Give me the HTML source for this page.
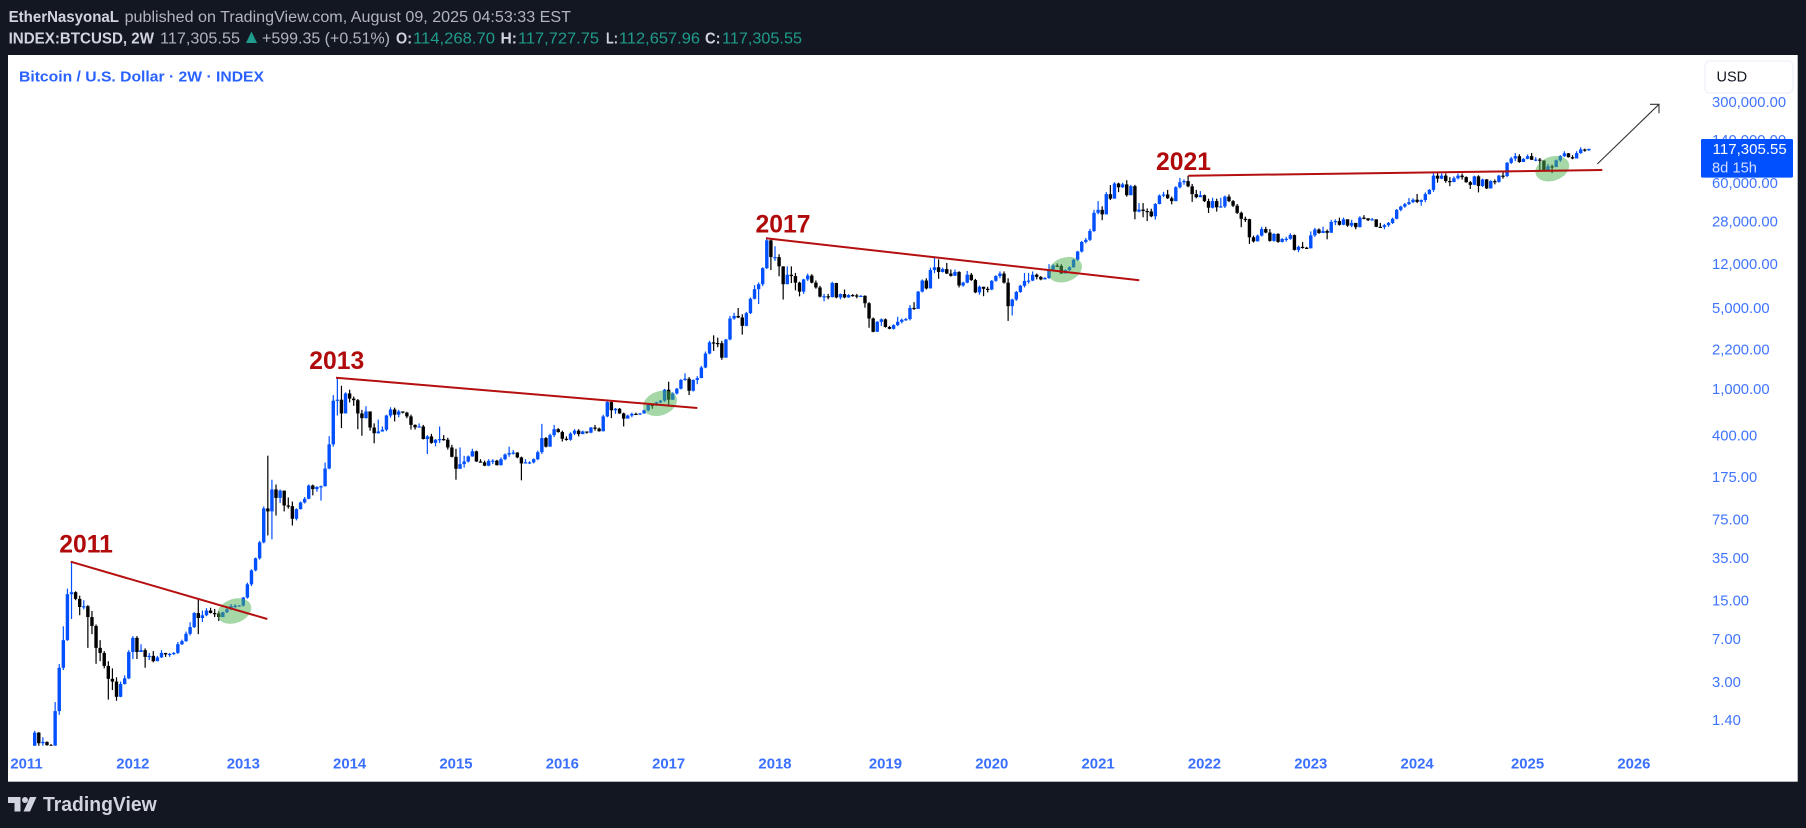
<!DOCTYPE html>
<html lang="en">
<head>
<meta charset="utf-8">
<title>Bitcoin / U.S. Dollar 2W</title>
<style>
html,body{margin:0;padding:0;background:#131722;width:1806px;height:828px;overflow:hidden}
svg{display:block;font-family:"Liberation Sans",sans-serif}
</style>
</head>
<body>
<svg id="chart" xmlns="http://www.w3.org/2000/svg" width="1806" height="828" viewBox="0 0 1806 828">
  <defs><clipPath id="pane"><rect x="8" y="55" width="1790" height="690.7"/></clipPath></defs>
  <rect x="0" y="0" width="1806" height="828" fill="#131722"/>
  <rect x="8" y="55" width="1789.7" height="726.7" fill="#ffffff"/>

  <g font-size="15.5">
    <text x="8.6" y="22" font-weight="bold" fill="#d1d4dc" textLength="110.4" lengthAdjust="spacingAndGlyphs">EtherNasyonaL</text>
    <text x="124.6" y="22" fill="#b2b5be" textLength="446.4" lengthAdjust="spacingAndGlyphs">published on TradingView.com, August 09, 2025 04:53:33 EST</text>
  </g>
  <g font-size="15.5">
    <text x="8.6" y="43.5" font-weight="bold" fill="#d1d4dc" textLength="145.4" lengthAdjust="spacingAndGlyphs">INDEX:BTCUSD, 2W</text>
    <text x="160" y="43.5" fill="#b2b5be" textLength="80" lengthAdjust="spacingAndGlyphs">117,305.55</text>
    <polygon points="251.5,31.5 257,43 246,43" fill="#1f9c8c"/>
    <text x="262" y="43.5" fill="#b2b5be" textLength="128" lengthAdjust="spacingAndGlyphs">+599.35 (+0.51%)</text>
    <text x="396" y="43.5" font-weight="bold" fill="#d1d4dc" textLength="16" lengthAdjust="spacingAndGlyphs">O:</text>
    <text x="413" y="43.5" fill="#1f9c8c" textLength="82" lengthAdjust="spacingAndGlyphs">114,268.70</text>
    <text x="500.5" y="43.5" font-weight="bold" fill="#d1d4dc" textLength="16.5" lengthAdjust="spacingAndGlyphs">H:</text>
    <text x="518" y="43.5" fill="#1f9c8c" textLength="81" lengthAdjust="spacingAndGlyphs">117,727.75</text>
    <text x="606" y="43.5" font-weight="bold" fill="#d1d4dc" textLength="12" lengthAdjust="spacingAndGlyphs">L:</text>
    <text x="619" y="43.5" fill="#1f9c8c" textLength="81" lengthAdjust="spacingAndGlyphs">112,657.96</text>
    <text x="705" y="43.5" font-weight="bold" fill="#d1d4dc" textLength="15.5" lengthAdjust="spacingAndGlyphs">C:</text>
    <text x="722" y="43.5" fill="#1f9c8c" textLength="80" lengthAdjust="spacingAndGlyphs">117,305.55</text>
  </g>

  <text x="19" y="81.5" font-size="14.5" font-weight="bold" fill="#2962ff" textLength="245" lengthAdjust="spacingAndGlyphs">Bitcoin / U.S. Dollar · 2W · INDEX</text>

  <g id="price-axis"></g>
  <g id="time-axis"></g>
  <g id="candles" clip-path="url(#pane)"></g>

  <g>
    <ellipse cx="234.3" cy="611" rx="17.5" ry="12" transform="rotate(-20 234.3 611)" fill="#4caf50" fill-opacity="0.5"/>
    <ellipse cx="660" cy="403.3" rx="17.5" ry="12" transform="rotate(-20 660 403.3)" fill="#4caf50" fill-opacity="0.5"/>
    <ellipse cx="1065" cy="269.7" rx="17.5" ry="12" transform="rotate(-20 1065 269.7)" fill="#4caf50" fill-opacity="0.5"/>
    <ellipse cx="1552.3" cy="168.7" rx="17.5" ry="12" transform="rotate(-20 1552.3 168.7)" fill="#4caf50" fill-opacity="0.5"/>
    <line x1="70.7" y1="561.7" x2="267.3" y2="619" stroke="#b50f0f" stroke-width="2"/>
    <line x1="336" y1="377.7" x2="697.3" y2="408" stroke="#b50f0f" stroke-width="2"/>
    <line x1="766" y1="238.3" x2="1139.3" y2="280.3" stroke="#b50f0f" stroke-width="2"/>
    <line x1="1188.3" y1="175.7" x2="1602.3" y2="170" stroke="#b50f0f" stroke-width="2"/>
    <g font-size="24.7" font-weight="bold" fill="#b00a0a">
      <text x="59.3" y="552.7">2011</text>
      <text x="309.3" y="369">2013</text>
      <text x="755.5" y="232.3">2017</text>
      <text x="1156" y="170">2021</text>
    </g>
    <g stroke="#333333" stroke-width="1.1" fill="none">
      <line x1="1597.3" y1="164" x2="1659" y2="104.3"/>
      <polyline points="1650,104.3 1659,104.3 1659,113.3"/>
    </g>
  </g>

  <g>
    <rect x="1705" y="61" width="88" height="32" rx="5" fill="#ffffff" stroke="#f0f3fa" stroke-width="1.5"/>
    <text x="1716.5" y="81.5" font-size="14.5" fill="#131722">USD</text>
  </g>

  <g>
    <rect x="1701" y="139" width="92" height="38.6" rx="1.5" fill="#0050ff"/>
    <text x="1712.7" y="154" font-size="14.8" fill="#ffffff" textLength="74" lengthAdjust="spacingAndGlyphs">117,305.55</text>
    <text x="1712" y="172.5" font-size="14.8" fill="#d3deff" textLength="45" lengthAdjust="spacingAndGlyphs">8d 15h</text>
  </g>

  <g>
    <path d="M8 797H20.5V811.5H14.5V803H8Z" fill="#d1d4dc"/>
    <circle cx="25" cy="800" r="3" fill="#d1d4dc"/>
    <path d="M30 797H36.5L30 811.5H23.5Z" fill="#d1d4dc"/>
    <text x="43" y="811" font-size="20.5" font-weight="bold" fill="#d1d4dc" textLength="113.7" lengthAdjust="spacingAndGlyphs">TradingView</text>
  </g>
</svg>
<script>
var firstOpen = 0.6;
var closes = [
1.09,.883,.906,.85,.84,1.67,3.95,6.83,17,17.7,
15.5,13.2,13.4,10.8,9.06,5.86,5.3,4.1,3.17,3.0,
2.22,2.86,3.2,5.4,7.15,5.4,5.6,4.9,5.0,4.5,
4.85,5.3,5.15,5.2,5.3,6.3,6.7,7.75,8.85,11.7,
10.6,11.2,12.3,11.7,11.6,10.8,11.9,12.6,13.4,13.5,
13.6,15.9,20.7,27.3,34.7,47.6,93.3,88,136,115,
133,99,97.5,76,92,105,113,147,137,143,
145,206,333,792,808,615,915,825,800,615,
560,640,465,415,430,445,590,665,600,640,
625,580,490,467,475,370,390,343,365,370,
365,313,260,205,225,237,262,290,237,233,
218,240,241,220,248,272,280,283,257,228,
233,233,248,285,377,318,400,450,425,372,
365,412,437,408,430,420,465,455,432,580,
770,655,675,615,555,590,610,608,615,655,
730,725,765,792,985,808,915,1005,1195,1225,
965,1195,1240,1530,2020,2520,2490,2480,1860,2670,
4050,4260,4130,3500,4500,5990,7250,8000,11000,19100,
13700,13700,11400,8000,9650,9400,8250,6900,8800,9500,
8250,7500,6250,6300,6200,8200,6150,6570,6150,6450,
6400,6320,6350,5480,4050,3110,3790,3980,3420,3300,
3550,3790,3950,4000,5000,4900,6900,8600,7350,10600,
11200,10200,10800,9880,9450,10200,7800,8250,9650,8680,
6800,7600,7300,7200,8550,9400,9880,8250,5170,5900,
6850,7750,8530,8600,9650,9250,8800,9050,10700,11600,
11500,9900,10600,11200,13000,15300,18500,19300,23000,33000,
35000,32000,47800,43700,59000,54800,58000,46800,56000,33800,
35200,34200,33900,30800,39300,46500,47500,44000,41600,54800,
60500,61900,55800,47800,45000,46800,41600,36500,41600,36800,
37500,45500,41600,38000,33000,29300,29100,20300,18700,21000,
23900,22300,18900,21700,18500,19600,19700,21200,15800,16800,
16500,16300,21100,23700,22100,23000,22200,27500,28000,26000,
29000,25600,27000,24800,30000,29600,28500,29000,25000,24900,
25800,27000,29300,35000,37300,39200,40800,42800,41000,42500,
47800,52000,69000,65000,69000,62000,60800,65500,69000,67000,
60500,57500,68000,56200,64000,53500,61900,61000,69000,68500,
89000,97000,101600,90500,96300,101600,94500,95000,93300,76500,
83000,82000,93500,101600,107500,99500,97000,108000,116000,114268,117305
];
var highs = [
1.13,1.1,.994,.917,.87,2,4.25,9,19,32.2,
18,16.5,15.1,13.7,12.2,9.33,6.83,5.5,4.5,3.9,
3.27,3,3.4,5.6,7.4,7.4,6.3,5.8,5.3,5.5,
5,5.6,5.25,5.3,5.4,6.6,6.9,8.1,9.75,11.9,
15.5,12.3,12.9,13,12.7,12.1,12,13.2,14,14,
13.7,16.1,21.4,27.9,35.2,49,97,266,165,150,
136,133,116,107,93.5,107,117,150,150,145,
147,232,392,885,1230,1065,935,985,860,820,
660,710,625,505,545,475,600,695,690,660,
640,635,600,495,505,490,400,410,370,475,
400,380,330,305,313,265,267,305,294,248,
241,248,248,245,257,278,318,297,285,261,
248,238,252,294,500,385,412,490,460,437,
390,423,450,450,437,430,470,490,465,600,
792,780,685,685,625,600,625,625,622,665,
745,745,775,805,1000,1155,935,1020,1220,1365,
1265,1210,1290,1580,2100,2600,2900,2770,2600,2700,
4260,4530,4990,4400,4620,6150,7850,8270,11200,20300,
19400,17000,14500,11400,11400,11400,10000,8400,8900,9860,
9750,8620,7750,6600,6600,8400,8180,6650,7200,6570,
6570,6600,6450,6420,5600,4130,3850,4050,4050,3500,
3610,4190,4050,4100,5280,5600,7000,8800,9000,11100,
13800,13100,11100,12200,10700,10700,10350,8400,10400,10000,
8900,7800,7600,7600,8700,9550,10300,10300,9000,6000,
7000,7900,10000,10000,10300,9900,9400,9200,11900,11900,
12100,11900,10700,11400,13200,15500,18900,20000,24000,35000,
41600,37500,49800,57200,60600,60000,60000,63000,57500,57500,
40000,40000,36000,35800,40000,47500,50000,52000,45500,56000,
66000,64000,68900,58500,52000,50800,47500,43700,44500,43700,
44500,46500,47500,42500,39300,33800,30600,29300,21000,21400,
25000,25000,23900,22000,22000,20000,20500,22000,21500,17200,
18500,16800,22800,24500,24200,25000,23700,28700,29000,30000,
30000,28500,28700,26800,30800,31500,29600,29800,29000,27000,
26500,27500,30000,35500,38000,40200,44200,44000,48000,43000,
49500,53000,73000,73800,72000,72000,67000,68000,72000,72000,
68000,62000,69000,69500,65000,64500,63000,64000,70000,74500,
90500,100000,108000,105500,97700,105000,108000,99500,98000,93000,
87000,85800,95000,103600,112000,108000,103600,112150,121000,118000,117727
];
var lows = [
.6,.6,.8,.7,.7,.7,1.55,3.77,6.75,10.4,
15.1,11.2,12.6,5.86,7.69,4.27,4.5,3.9,2.1,2.54,
2.05,2.2,2.83,3.15,4.7,4.7,5.4,3.95,4.6,4.4,
4.5,4.8,4.9,4.9,5.1,5.2,6.2,6.6,7.5,8.7,
7.7,9.8,11,11.6,10.8,10,10.8,11.7,12.4,12.9,
13.4,13.3,15.6,20,26.8,33.8,46.7,54.6,50.5,81,
104,88,93,66.5,73.6,91.5,103,112,121,130,
109,144,203,318,590,460,615,765,715,450,
395,555,437,340,412,428,432,565,525,570,
615,560,447,447,467,367,275,337,320,342,
358,300,257,165,207,210,232,260,235,232,
216,216,225,219,219,243,260,272,253,163,
228,225,228,243,275,313,318,385,420,352,
358,358,400,390,408,412,415,437,428,430,
570,560,610,610,475,555,570,600,600,612,
640,675,715,755,775,730,805,895,990,1177,
885,950,1100,1240,1510,1990,2130,2290,1785,1860,
2630,3950,4080,2940,3470,4430,5920,5400,7700,10800,
10600,12700,9350,5900,8000,8180,7080,6280,6600,8530,
8130,7320,6150,5700,5930,6150,6050,5920,6050,6100,
6250,6050,6240,5020,3370,3080,3110,3500,3380,3270,
3250,3480,3670,3860,3900,4800,4970,6800,7200,7400,
9950,8900,10100,9800,9300,9450,7500,7600,8150,8550,
6700,6500,6300,6800,7100,8400,9000,8100,3860,4300,
5750,6750,7500,8100,8500,8800,8650,8800,8900,10600,
11200,9800,10000,10400,11100,12700,15000,18000,18850,22500,
32000,28500,32000,42500,43700,49700,54000,45500,46800,29000,
33300,30200,28000,30200,28800,39000,45000,43500,39000,41600,
53500,57500,54800,41000,44000,45500,40800,32900,36000,33800,
36500,36300,40800,37000,32200,24800,27500,17800,18300,18700,
20600,22000,18600,18600,18200,18300,18600,19300,15600,15100,
16200,16100,16300,20500,21700,22100,19500,22200,25800,25600,
25800,25000,24800,23800,24800,29000,28000,28300,24800,24800,
23800,25000,26400,29000,34000,36500,38500,40000,40000,38000,
40800,47500,50000,60000,64500,60000,56000,60500,64000,63800,
60000,53000,58000,49500,55000,53000,53500,58000,60000,65000,
67000,87000,92000,89000,90500,95500,94000,92000,77000,75500,
77000,72500,81500,90500,100000,98800,95500,97500,106500,111000,112657
];
var priceTicks = [300000,140000,60000,28000,12000,5000,2200,1000,400,175,75,35,15,7,3,1.4];
var yearLabels = [2011,2012,2013,2014,2015,2016,2017,2018,2019,2020,2021,2022,2023,2024,2025,2026];
var yearBars = [-2,24,51,77,103,129,155,181,208,234,260,286,312,338,365,391];

var SVG_NS = 'http://www.w3.org/2000/svg';
function xScale(i) { return 34.7 + 4.09 * i; }
function yScale(p) { return 720 - (Math.log10(p) - Math.log10(1.4)) * 116; }
function fmtPrice(p) {
  return p.toFixed(2).replace(/\B(?=(\d{3})+(?!\d))/g, ',');
}

var candleLayer = document.getElementById('candles');
closes.forEach(function (close, i) {
  var open = i === 0 ? firstOpen : closes[i - 1];
  var color = close >= open ? '#0050ff' : '#000000';
  var cx = xScale(i);
  var g = document.createElementNS(SVG_NS, 'g');
  
  
  var wick = document.createElementNS(SVG_NS, 'rect');
  
  
  var wickTop = Math.min(yScale(highs[i]), yScale(open), yScale(close));
  var wickBottom = Math.max(yScale(lows[i]), yScale(open), yScale(close));
  wick.setAttribute('x', cx - 0.6);
  wick.setAttribute('y', wickTop);
  wick.setAttribute('width', 1.2);
  wick.setAttribute('height', Math.max(1, wickBottom - wickTop));
  wick.setAttribute('fill', color);
  var body = document.createElementNS(SVG_NS, 'rect');
  
  
  var bodyTop = Math.min(yScale(open), yScale(close));
  var bodyHeight = Math.abs(yScale(open) - yScale(close));
  body.setAttribute('x', cx - 1.7);
  body.setAttribute('y', bodyTop);
  body.setAttribute('width', 3.4);
  body.setAttribute('height', Math.max(1.2, bodyHeight));
  body.setAttribute('fill', color);
  g.appendChild(wick);
  g.appendChild(body);
  candleLayer.appendChild(g);
});

var priceAxis = document.getElementById('price-axis');
priceTicks.forEach(function (p) {
  var t = document.createElementNS(SVG_NS, 'text');
  
  
  t.setAttribute('x', 1712);
  t.setAttribute('y', yScale(p) + 5.2);
  t.setAttribute('font-size', '14.8');
  t.setAttribute('fill', '#3f74ff');
  t.textContent = fmtPrice(p);
  priceAxis.appendChild(t);
});

var timeAxis = document.getElementById('time-axis');
yearLabels.forEach(function (year, k) {
  var t = document.createElementNS(SVG_NS, 'text');
  
  
  t.setAttribute('x', xScale(yearBars[k]));
  t.setAttribute('y', 768.5);
  t.setAttribute('text-anchor', 'middle');
  t.setAttribute('font-size', '14.9');
  t.setAttribute('font-weight', 'bold');
  t.setAttribute('fill', '#3a6fff');
  t.textContent = year;
  timeAxis.appendChild(t);
});
</script>
</body>
</html>
